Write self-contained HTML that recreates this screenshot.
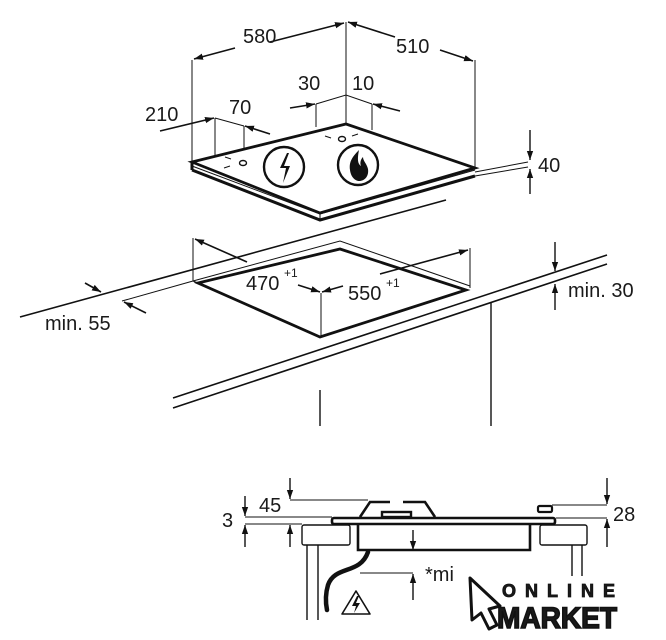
<!DOCTYPE html>
<html><head><meta charset="utf-8"><style>
html,body{margin:0;padding:0;background:#fff;}
svg{display:block;}
text{font-family:"Liberation Sans",sans-serif;fill:#1a1a1a;}
</style></head><body>
<svg width="666" height="640" viewBox="0 0 666 640" xmlns="http://www.w3.org/2000/svg">
<defs>
<marker id="a" viewBox="0 0 10 10" refX="10" refY="5" markerWidth="9" markerHeight="9" markerUnits="userSpaceOnUse" orient="auto"><path d="M0,1.5 L10,5 L0,8.5 z" fill="#111"/></marker>
</defs>
<g stroke="#111" fill="none" stroke-width="1">
<line x1="192" y1="60" x2="192" y2="162"/>
<line x1="346" y1="22" x2="346" y2="124"/>
<line x1="475" y1="60" x2="475" y2="168"/>
<line x1="270" y1="42" x2="344" y2="23" stroke-width="1.6" marker-end="url(#a)"/>
<line x1="235" y1="48" x2="194" y2="59" stroke-width="1.6" marker-end="url(#a)"/>
<line x1="395" y1="37" x2="348" y2="22" stroke-width="1.6" marker-end="url(#a)"/>
<line x1="440" y1="50" x2="473" y2="61" stroke-width="1.6" marker-end="url(#a)"/>
<polyline points="316,104 346,95 372,104"/>
<line x1="316" y1="104" x2="316" y2="127"/>
<line x1="372" y1="104" x2="372" y2="130"/>
<line x1="290" y1="108" x2="315" y2="104" stroke-width="1.6" marker-end="url(#a)"/>
<line x1="400" y1="111" x2="373" y2="104" stroke-width="1.6" marker-end="url(#a)"/>
<polyline points="215,118 244,126"/>
<line x1="215" y1="118" x2="215" y2="158"/>
<line x1="244" y1="126" x2="244" y2="161"/>
<line x1="160" y1="131" x2="214" y2="118" stroke-width="1.6" marker-end="url(#a)"/>
<line x1="270" y1="134" x2="245" y2="126" stroke-width="1.6" marker-end="url(#a)"/>
<path d="M192,170 L320,220 L475,176" stroke-width="3"/>
<path d="M192,166 L320,214 L475,170" stroke-width="1"/>
<polygon points="192,162 346,124 475,168 320,213" stroke-width="2.8" fill="#fff"/>
<line x1="192" y1="162" x2="192" y2="170" stroke-width="3"/>
<line x1="320" y1="213" x2="320" y2="220" stroke-width="1"/>
<circle cx="284" cy="167" r="20" stroke-width="2.4"/>
<circle cx="358" cy="165" r="20" stroke-width="2.4"/>
<ellipse cx="243" cy="163" rx="3.5" ry="2.5" stroke-width="1.4"/>
<ellipse cx="342" cy="139" rx="3.5" ry="2.5" stroke-width="1.4"/>
<path d="M225,157 l6,2 M224,168 l6,-2 M325,136 l6,2 M352,136 l6,-2" stroke-width="1"/>
<line x1="475" y1="172" x2="528" y2="162"/>
<line x1="475" y1="176" x2="528" y2="167"/>
<line x1="530" y1="130" x2="530" y2="160" stroke-width="1.4" marker-end="url(#a)"/>
<line x1="530" y1="194" x2="530" y2="169" stroke-width="1.4" marker-end="url(#a)"/>
<line x1="20" y1="317" x2="446" y2="200" stroke-width="1.6"/>
<line x1="122" y1="301" x2="193" y2="281"/>
<line x1="85" y1="283" x2="101" y2="292" stroke-width="1.6" marker-end="url(#a)"/>
<line x1="146" y1="313" x2="124" y2="302" stroke-width="1.6" marker-end="url(#a)"/>
<path d="M193,281 L340,241 L470,286" stroke-width="1"/>
<polygon points="198,283 340,249 466,290 320,337" stroke-width="2.8"/>
<line x1="193" y1="281" x2="198" y2="283"/>
<line x1="193" y1="238" x2="193" y2="281"/>
<line x1="470" y1="248" x2="470" y2="288"/>
<line x1="247" y1="262" x2="195" y2="239" stroke-width="1.6" marker-end="url(#a)"/>
<line x1="380" y1="274" x2="468" y2="250" stroke-width="1.6" marker-end="url(#a)"/>
<line x1="321" y1="293" x2="321" y2="337"/>
<line x1="298" y1="285" x2="320" y2="292" stroke-width="1.6" marker-end="url(#a)"/>
<line x1="343" y1="286" x2="322" y2="292" stroke-width="1.6" marker-end="url(#a)"/>
<line x1="173" y1="398" x2="607" y2="255" stroke-width="1.6"/>
<line x1="173" y1="408" x2="607" y2="264" stroke-width="1.6"/>
<line x1="320" y1="390" x2="320" y2="426" stroke-width="1.4"/>
<line x1="491" y1="302" x2="491" y2="426" stroke-width="1.4"/>
<line x1="555" y1="242" x2="555" y2="271" stroke-width="1.4" marker-end="url(#a)"/>
<line x1="555" y1="310" x2="555" y2="284" stroke-width="1.4" marker-end="url(#a)"/>
<rect x="302" y="525" width="48" height="20" rx="2" stroke-width="1.4"/>
<rect x="540" y="525" width="47" height="20" rx="2" stroke-width="1.4"/>
<path d="M307,545 V620 M318,545 V620 M572,545 V620 M582,545 V620" stroke-width="1.4"/>
<rect x="332" y="518" width="223" height="6" rx="2" stroke-width="2.6" fill="#fff"/>
<path d="M358,524 V550 H530 V524" stroke-width="2.6"/>
<path d="M360,517 L370,502 H390 M403,502 H425 L435,517" stroke-width="2.6"/>
<rect x="382" y="512" width="29" height="5" stroke-width="2.4"/>
<rect x="538" y="506" width="14" height="6" rx="1.5" stroke-width="2.2"/>
<path d="M245,517 H332 M245,524 H302 M290,500 H368 M552,505 H607 M556,518 H607 M360,573 H413" stroke-width="1"/>
<line x1="245" y1="496" x2="245" y2="516" stroke-width="1.4" marker-end="url(#a)"/>
<line x1="245" y1="547" x2="245" y2="525" stroke-width="1.4" marker-end="url(#a)"/>
<line x1="290" y1="478" x2="290" y2="499" stroke-width="1.4" marker-end="url(#a)"/>
<line x1="290" y1="547" x2="290" y2="525" stroke-width="1.4" marker-end="url(#a)"/>
<line x1="607" y1="478" x2="607" y2="504" stroke-width="1.4" marker-end="url(#a)"/>
<line x1="607" y1="547" x2="607" y2="519" stroke-width="1.4" marker-end="url(#a)"/>
<line x1="413" y1="530" x2="413" y2="550" stroke-width="1.4" marker-end="url(#a)"/>
<line x1="413" y1="600" x2="413" y2="574" stroke-width="1.4" marker-end="url(#a)"/>
<path d="M368,552 C360,575 335,565 328,585 C325,595 326,605 327,610" stroke-width="4.5" stroke-linecap="round"/>
<path d="M356,591 L370,614 H342 Z" stroke-width="1.6" stroke-linejoin="round"/>
</g>
<path d="M287,153 L280,168 L286,168 L283,183 L290,166 L284,166 L289,153 Z" fill="#111"/>
<path d="M359,150 C351,158 349,163 350,170 C351,178 356,181 359,181 C365,181 369,176 368,169 C367,164 363,161 363,157 C360,160 360,164 361,166 C358,164 357,160 359,150 Z" fill="#111"/>
<path d="M357,596 L352,606 L356,606 L354,613 L360,603 L356,603 L359,596 Z" fill="#111"/>
<g font-size="20">
<text x="243" y="43">580</text>
<text x="396" y="53">510</text>
<text x="298" y="90">30</text>
<text x="352" y="90">10</text>
<text x="145" y="121">210</text>
<text x="229" y="114">70</text>
<text x="538" y="172">40</text>
<text x="45" y="330">min. 55</text>
<text x="246" y="290">470</text><text x="284" y="277" font-size="12">+1</text>
<text x="348" y="300">550</text><text x="386" y="287" font-size="12">+1</text>
<text x="568" y="297">min. 30</text>
<text x="222" y="527">3</text>
<text x="259" y="512">45</text>
<text x="613" y="521">28</text>
<text x="425" y="581">*mi</text>
</g>
<rect x="466" y="576" width="162" height="56" fill="#fff"/>
<path d="M470,578 L500,606 L489,609 L497,625 L489,629 L481,613 L472,620 Z" fill="#fff" stroke="#111" stroke-width="3" stroke-linejoin="round"/>
<text x="502" y="597" font-size="18" font-weight="bold" letter-spacing="9" fill="#111" stroke="#111" stroke-width="0.8">ONLINE</text>
<text x="497" y="628" font-size="30" font-weight="bold" fill="#111" stroke="#111" stroke-width="1.6" textLength="120" lengthAdjust="spacingAndGlyphs">MARKET</text>
</svg>
</body></html>
